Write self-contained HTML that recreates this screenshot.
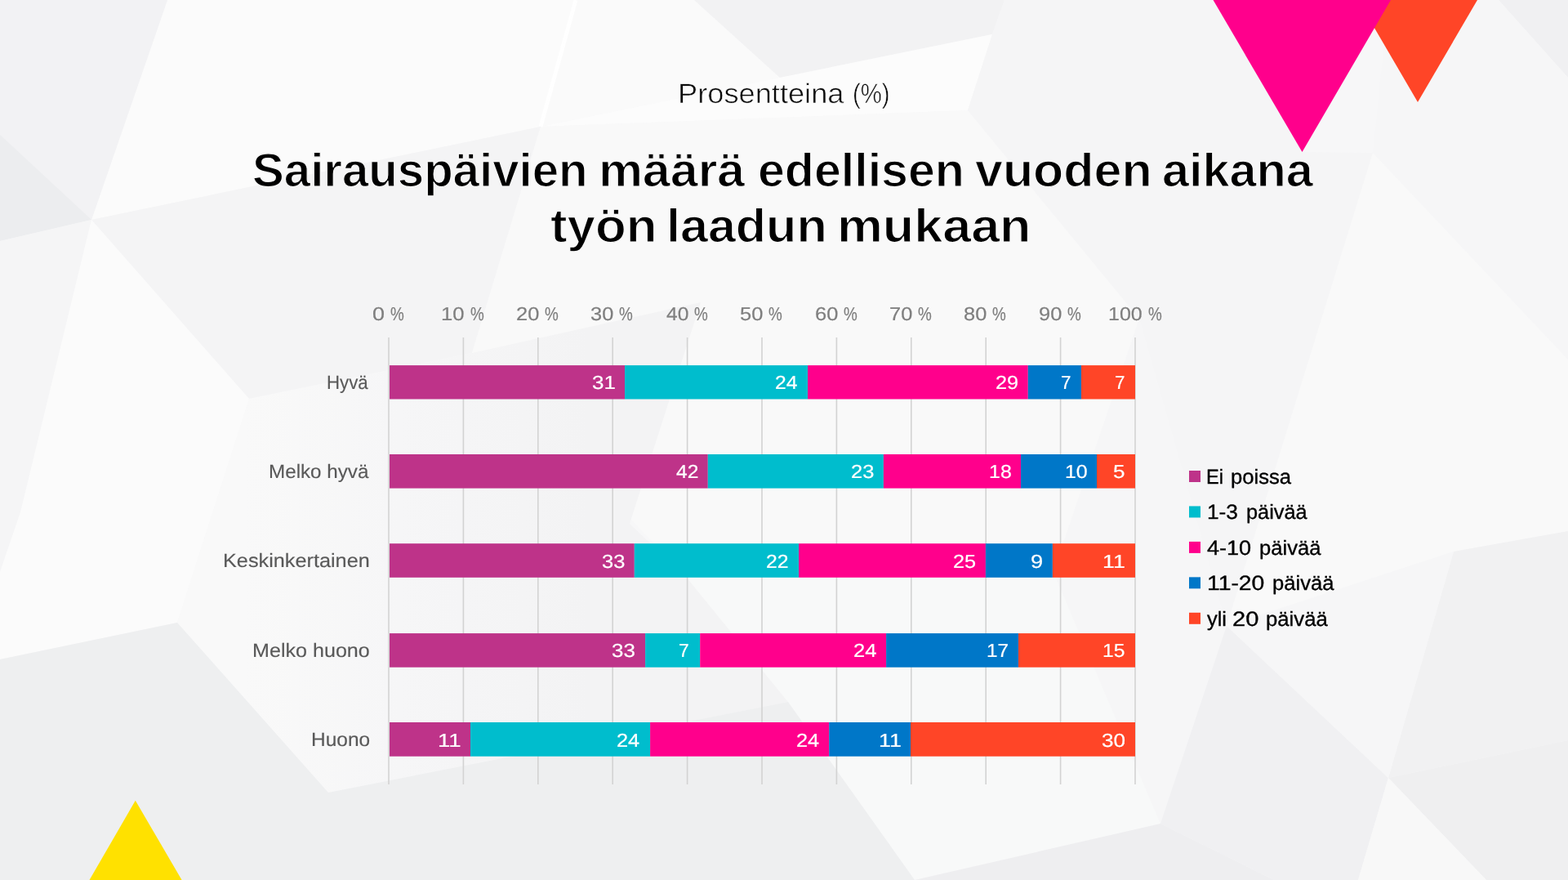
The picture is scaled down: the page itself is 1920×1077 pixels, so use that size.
<!DOCTYPE html>
<html lang="fi">
<head>
<meta charset="utf-8">
<title>Sairauspäivien määrä edellisen vuoden aikana työn laadun mukaan</title>
<style>
html,body{margin:0;padding:0;}
body{width:1920px;height:1077px;overflow:hidden;position:relative;background:#f7f7f8;font-family:"Liberation Sans",sans-serif;text-rendering:geometricPrecision;}
.slide{position:absolute;left:0;top:0;width:1920px;height:1077px;overflow:hidden;}
svg.art{position:absolute;left:0;top:0;width:1920px;height:1077px;display:block;}
h1,h2,p,ul,li{margin:0;padding:0;font-weight:normal;font-size:inherit;list-style:none;}
.t{position:absolute;white-space:nowrap;line-height:1;transform-origin:0 0;}
.sub{font-size:33.8px;color:#0a0a0a;-webkit-text-stroke:0.6px #f8f8f8;}
.tw{font-size:57.5px;color:#000;font-weight:700;-webkit-text-stroke:1.2px #f8f8f8;}
.ax{font-size:23px;color:#7f7f7f;-webkit-text-stroke:0.2px #7f7f7f;}
.cat{font-size:23.6px;color:#595959;-webkit-text-stroke:0.15px #595959;}
.val{font-size:23px;color:#fff;-webkit-text-stroke:0.2px #fff;}
.leg{font-size:25px;color:#000;-webkit-text-stroke:0.35px #000;}
</style>
</head>
<body>
<div class="slide">

<svg class="art" viewBox="0 0 1920 1077" width="1920" height="1077" aria-hidden="true">
<defs><linearGradient id="gA" gradientUnits="userSpaceOnUse" x1="300" y1="600" x2="720" y2="600"><stop offset="0" stop-color="#f9f9f9"/><stop offset="0.45" stop-color="#f6f6f7"/><stop offset="1" stop-color="#f3f3f4"/></linearGradient></defs>
<g class="bg">
<rect x="0" y="0" width="1920" height="1077" fill="#f7f7f8"/>
<polygon points="205,0 705,0 662,155 112,269" fill="#fbfbfb"/>
<polygon points="705,0 850,0 955,95 662,155" fill="#fafafa"/>
<polygon points="850,0 1230,0 1215,42 955,95" fill="#f2f2f3"/>
<polygon points="955,95 1215,42 1185,135 662,155" fill="#fcfcfc"/>
<polygon points="0,0 205,0 112,269 0,295" fill="#f2f2f4"/>
<polygon points="0,165 112,269 0,295" fill="#ecedef"/>
<polygon points="112,269 662,155 578,432 305,488" fill="#f4f4f5"/>
<polygon points="0,295 112,269 25,627 0,700" fill="#f5f5f6"/>
<polygon points="112,269 305,488 217,762 0,807 0,700 25,627" fill="#fbfbfb"/>
<polygon points="662,155 1185,135 1395,390 1290,700 841,707 578,432" fill="#f9f9f9"/>
<polygon points="305,488 578,432 858,370 771,641 841,707 965,859 402,970 217,762" fill="url(#gA)"/>
<polygon points="841,707 1290,700 1421,1008 1120,1077 965,859" fill="#f8f9f9"/>
<polygon points="1185,135 1215,42 1230,0 1500,0 1595,186 1681,187 1502,766 1395,390" fill="#f5f5f6"/>
<polygon points="1681,187 1920,440 1920,650 1780,675 1502,766" fill="#f9f9f9"/>
<polygon points="1395,390 1502,766 1421,1008 1290,700" fill="#f6f6f7"/>
<polygon points="1835,0 1920,0 1920,95" fill="#f0f0f2"/>
<polygon points="1700,0 1835,0 1920,95 1920,440 1681,187" fill="#f6f6f7"/>
<polygon points="0,807 217,762 402,970 965,859 1120,1077 0,1077" fill="#eeeff0"/>
<polygon points="1502,766 1700,952 1663,1077 1560,1077 1421,1008" fill="#f0f0f2"/>
<polygon points="1120,1077 1421,1008 1560,1077" fill="#eeeef0"/>
<polygon points="1780,675 1920,650 1920,906 1700,952" fill="#f1f1f2"/>
<polygon points="1700,952 1920,906 1920,1077 1820,1077" fill="#efeff0"/>
<polygon points="1700,952 1820,1077 1663,1077" fill="#f8f8f8"/>
<polygon points="1502,766 1780,675 1700,952" fill="#f6f6f7"/>
<line x1="705" y1="0" x2="662" y2="155" stroke="#ffffff" stroke-width="5" stroke-opacity="0.85"/>
</g>

<polygon points="1663,0 1809,0 1736,125" fill="#FF4527"/>
<polygon points="1485.5,0 1703,0 1594.5,186" fill="#FF008C"/>
<polygon points="109.5,1077 222.6,1077 165.8,979.8" fill="#FFE100"/>
<rect x="475.20" y="413" width="1.6" height="547" fill="#d3d3d3"/>
<rect x="566.60" y="413" width="1.6" height="547" fill="#d3d3d3"/>
<rect x="658.00" y="413" width="1.6" height="547" fill="#d3d3d3"/>
<rect x="749.40" y="413" width="1.6" height="547" fill="#d3d3d3"/>
<rect x="840.80" y="413" width="1.6" height="547" fill="#d3d3d3"/>
<rect x="932.20" y="413" width="1.6" height="547" fill="#d3d3d3"/>
<rect x="1023.60" y="413" width="1.6" height="547" fill="#d3d3d3"/>
<rect x="1115.00" y="413" width="1.6" height="547" fill="#d3d3d3"/>
<rect x="1206.40" y="413" width="1.6" height="547" fill="#d3d3d3"/>
<rect x="1297.80" y="413" width="1.6" height="547" fill="#d3d3d3"/>
<rect x="1389.20" y="413" width="1.6" height="547" fill="#d3d3d3"/>
<rect x="477.00" y="447.10" width="288.00" height="41.40" fill="#BE3389"/>
<rect x="765.00" y="447.10" width="224.10" height="41.40" fill="#00BDCD"/>
<rect x="989.10" y="447.10" width="269.70" height="41.40" fill="#FF008C"/>
<rect x="1258.80" y="447.10" width="65.20" height="41.40" fill="#0077C8"/>
<rect x="1324.00" y="447.10" width="66.00" height="41.40" fill="#FF4527"/>
<rect x="477.00" y="556.00" width="389.80" height="41.60" fill="#BE3389"/>
<rect x="866.80" y="556.00" width="215.10" height="41.60" fill="#00BDCD"/>
<rect x="1081.90" y="556.00" width="168.10" height="41.60" fill="#FF008C"/>
<rect x="1250.00" y="556.00" width="93.00" height="41.60" fill="#0077C8"/>
<rect x="1343.00" y="556.00" width="47.00" height="41.60" fill="#FF4527"/>
<rect x="477.00" y="665.20" width="299.80" height="41.60" fill="#BE3389"/>
<rect x="776.80" y="665.20" width="201.30" height="41.60" fill="#00BDCD"/>
<rect x="978.10" y="665.20" width="228.80" height="41.60" fill="#FF008C"/>
<rect x="1206.90" y="665.20" width="82.00" height="41.60" fill="#0077C8"/>
<rect x="1288.90" y="665.20" width="101.10" height="41.60" fill="#FF4527"/>
<rect x="477.00" y="775.10" width="313.10" height="41.60" fill="#BE3389"/>
<rect x="790.10" y="775.10" width="67.10" height="41.60" fill="#00BDCD"/>
<rect x="857.20" y="775.10" width="227.90" height="41.60" fill="#FF008C"/>
<rect x="1085.10" y="775.10" width="161.90" height="41.60" fill="#0077C8"/>
<rect x="1247.00" y="775.10" width="143.00" height="41.60" fill="#FF4527"/>
<rect x="477.00" y="884.00" width="99.00" height="41.70" fill="#BE3389"/>
<rect x="576.00" y="884.00" width="220.10" height="41.70" fill="#00BDCD"/>
<rect x="796.10" y="884.00" width="219.10" height="41.70" fill="#FF008C"/>
<rect x="1015.20" y="884.00" width="99.80" height="41.70" fill="#0077C8"/>
<rect x="1115.00" y="884.00" width="275.00" height="41.70" fill="#FF4527"/>
<rect x="1456" y="576.00" width="14" height="14" fill="#BE3389"/>
<rect x="1456" y="619.45" width="14" height="14" fill="#00BDCD"/>
<rect x="1456" y="662.90" width="14" height="14" fill="#FF008C"/>
<rect x="1456" y="706.35" width="14" height="14" fill="#0077C8"/>
<rect x="1456" y="749.80" width="14" height="14" fill="#FF4527"/>
</svg>
<p class="subtitle"><span class="t sub" style="left:830.13px;top:99px;transform:scaleX(1.0722);">Prosentteina </span><span class="t sub" style="left:1043.73px;top:99px;transform:scaleX(0.8674);">(%)</span></p>
<h1 class="title">
<span class="t tw" style="left:308.96px;top:181px;transform:scaleX(1.0117);">Sairauspäivien </span>
<span class="t tw" style="left:732.58px;top:181px;transform:scaleX(1.0575);">määrä </span>
<span class="t tw" style="left:927.52px;top:181px;transform:scaleX(1.0277);">edellisen </span>
<span class="t tw" style="left:1193.70px;top:181px;transform:scaleX(1.0595);">vuoden </span>
<span class="t tw" style="left:1422.64px;top:181px;transform:scaleX(1.0325);">aikana </span>
<span class="t tw" style="left:673.93px;top:249px;transform:scaleX(1.075);">työn </span>
<span class="t tw" style="left:815.70px;top:249px;transform:scaleX(1.0613);">laadun </span>
<span class="t tw" style="left:1024.93px;top:249px;transform:scaleX(1.0928);">mukaan</span>
</h1>
<div class="axis">
<div class="tick"><span class="t ax" style="left:456.23px;top:373px;transform:scaleX(1.1705);">0 </span><span class="t ax" style="left:477.63px;top:373px;transform:scaleX(0.8208);">%</span></div>
<div class="tick"><span class="t ax" style="left:540.35px;top:373px;transform:scaleX(1.1172);">10 </span><span class="t ax" style="left:575.53px;top:373px;transform:scaleX(0.8208);">%</span></div>
<div class="tick"><span class="t ax" style="left:632.02px;top:373px;transform:scaleX(1.1065);">20 </span><span class="t ax" style="left:666.93px;top:373px;transform:scaleX(0.8208);">%</span></div>
<div class="tick"><span class="t ax" style="left:723.47px;top:373px;transform:scaleX(1.1045);">30 </span><span class="t ax" style="left:758.33px;top:373px;transform:scaleX(0.8208);">%</span></div>
<div class="tick"><span class="t ax" style="left:815.77px;top:373px;transform:scaleX(1.068);">40 </span><span class="t ax" style="left:849.73px;top:373px;transform:scaleX(0.8208);">%</span></div>
<div class="tick"><span class="t ax" style="left:906.15px;top:373px;transform:scaleX(1.1092);">50 </span><span class="t ax" style="left:941.13px;top:373px;transform:scaleX(0.8208);">%</span></div>
<div class="tick"><span class="t ax" style="left:997.59px;top:373px;transform:scaleX(1.1074);">60 </span><span class="t ax" style="left:1032.53px;top:373px;transform:scaleX(0.8208);">%</span></div>
<div class="tick"><span class="t ax" style="left:1089.03px;top:373px;transform:scaleX(1.106);">70 </span><span class="t ax" style="left:1123.93px;top:373px;transform:scaleX(0.8208);">%</span></div>
<div class="tick"><span class="t ax" style="left:1180.47px;top:373px;transform:scaleX(1.1043);">80 </span><span class="t ax" style="left:1215.33px;top:373px;transform:scaleX(0.8208);">%</span></div>
<div class="tick"><span class="t ax" style="left:1271.83px;top:373px;transform:scaleX(1.106);">90 </span><span class="t ax" style="left:1306.73px;top:373px;transform:scaleX(0.8208);">%</span></div>
<div class="tick"><span class="t ax" style="left:1357.49px;top:373px;transform:scaleX(1.0866);">100 </span><span class="t ax" style="left:1405.93px;top:373px;transform:scaleX(0.8208);">%</span></div>
</div>
<div class="bars">
<div class="row">
<span class="t cat" style="left:400.31px;top:458px;transform:scaleX(0.9434);">Hyvä</span>
<span class="t val" style="left:724.54px;top:457px;transform:scaleX(1.1289);">31</span>
<span class="t val" style="left:949.15px;top:457px;transform:scaleX(1.0724);">24</span>
<span class="t val" style="left:1219.12px;top:457px;transform:scaleX(1.0977);">29</span>
<span class="t val" style="left:1299.47px;top:457px;transform:scaleX(0.974);">7</span>
<span class="t val" style="left:1364.57px;top:457px;transform:scaleX(0.974);">7</span>
</div>
<div class="row">
<span class="t cat" style="left:328.95px;top:567px;transform:scaleX(1.0261);">Melko hyvä</span>
<span class="t val" style="left:828.27px;top:566px;transform:scaleX(1.0676);">42</span>
<span class="t val" style="left:1041.61px;top:566px;transform:scaleX(1.1091);">23</span>
<span class="t val" style="left:1210.59px;top:566px;transform:scaleX(1.0852);">18</span>
<span class="t val" style="left:1303.59px;top:566px;transform:scaleX(1.0832);">10</span>
<span class="t val" style="left:1363.12px;top:566px;transform:scaleX(1.1329);">5</span>
</div>
<div class="row">
<span class="t cat" style="left:273.46px;top:676px;transform:scaleX(1.0709);">Keskinkertainen</span>
<span class="t val" style="left:737.36px;top:676px;transform:scaleX(1.107);">33</span>
<span class="t val" style="left:938.45px;top:676px;transform:scaleX(1.0767);">22</span>
<span class="t val" style="left:1166.92px;top:676px;transform:scaleX(1.0998);">25</span>
<span class="t val" style="left:1262.34px;top:676px;transform:scaleX(1.1856);">9</span>
<span class="t val" style="left:1350.29px;top:676px;transform:scaleX(1.1639);">11</span>
</div>
<div class="row">
<span class="t cat" style="left:309.47px;top:786px;transform:scaleX(1.0644);">Melko huono</span>
<span class="t val" style="left:749.15px;top:785px;transform:scaleX(1.1239);">33</span>
<span class="t val" style="left:830.95px;top:785px;transform:scaleX(0.9925);">7</span>
<span class="t val" style="left:1044.91px;top:785px;transform:scaleX(1.1101);">24</span>
<span class="t val" style="left:1207.63px;top:785px;transform:scaleX(1.0579);">17</span>
<span class="t val" style="left:1350.01px;top:785px;transform:scaleX(1.0722);">15</span>
</div>
<div class="row">
<span class="t cat" style="left:380.73px;top:895px;transform:scaleX(1.0372);">Huono</span>
<span class="t val" style="left:536.45px;top:895px;transform:scaleX(1.1964);">11</span>
<span class="t val" style="left:755.32px;top:895px;transform:scaleX(1.1017);">24</span>
<span class="t val" style="left:975.22px;top:895px;transform:scaleX(1.1017);">24</span>
<span class="t val" style="left:1076.18px;top:895px;transform:scaleX(1.1686);">11</span>
<span class="t val" style="left:1348.93px;top:895px;transform:scaleX(1.1339);">30</span>
</div>
</div>
<ul class="legend">
<li><span class="t leg" style="left:1476.90px;top:572px;transform:scaleX(0.9429);">Ei </span><span class="t leg" style="left:1507.15px;top:572px;transform:scaleX(1.0252);">poissa</span></li>
<li><span class="t leg" style="left:1478.10px;top:615px;transform:scaleX(1.0515);">1-3 </span><span class="t leg" style="left:1525.97px;top:615px;transform:scaleX(1.0115);">päivää</span></li>
<li><span class="t leg" style="left:1478.19px;top:659px;transform:scaleX(1.0825);">4-10 </span><span class="t leg" style="left:1541.76px;top:659px;transform:scaleX(1.0239);">päivää</span></li>
<li><span class="t leg" style="left:1478.39px;top:702px;transform:scaleX(1.133);">11-20 </span><span class="t leg" style="left:1557.76px;top:702px;transform:scaleX(1.0239);">päivää</span></li>
<li><span class="t leg" style="left:1477.58px;top:746px;transform:scaleX(1.0164);">yli </span><span class="t leg" style="left:1508.76px;top:746px;transform:scaleX(1.1629);">20 </span><span class="t leg" style="left:1549.95px;top:746px;transform:scaleX(1.028);">päivää</span></li>
</ul>
</div>
</body>
</html>
